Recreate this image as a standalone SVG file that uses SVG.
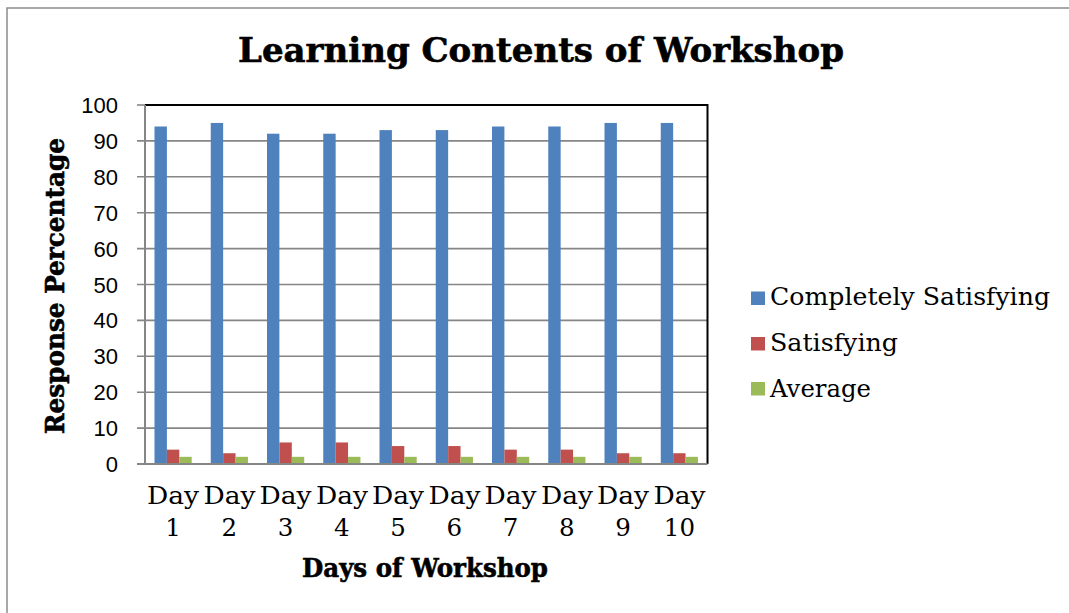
<svg xmlns="http://www.w3.org/2000/svg" width="1069" height="613" viewBox="0 0 1069 613">
<style>
.frame{fill:#fff;stroke:#8c8c8c;stroke-width:1.5}
.grid{stroke:#868686;stroke-width:1.6}
.axis{stroke:#868686;stroke-width:2}
.border{stroke:#000;stroke-width:2;fill:none}
.b{fill:#4F81BD}
.r{fill:#C0504D}
.g{fill:#9BBB59}
.ytick{font-family:"Liberation Sans",Arial,sans-serif;font-size:22px;fill:#000;text-anchor:end}
.xlab{font-family:"DejaVu Serif","Liberation Serif",serif;font-size:24.5px;fill:#000;text-anchor:middle}
.title{font-family:"DejaVu Serif","Liberation Serif",serif;font-weight:bold;fill:#000;text-anchor:middle;stroke:#000;stroke-width:0.6}
.leg{font-family:"DejaVu Serif","Liberation Serif",serif;font-size:25px;fill:#000}
</style>
<rect class="frame" x="7" y="8" width="1100" height="640"/>
<g id="title"><text class="title" x="541" y="62" font-size="34" textLength="606" lengthAdjust="spacingAndGlyphs">Learning Contents of Workshop</text></g>
<g id="gridlines">
<line class="grid" x1="137" y1="140.9" x2="707.5" y2="140.9"/>
<line class="grid" x1="137" y1="176.8" x2="707.5" y2="176.8"/>
<line class="grid" x1="137" y1="212.7" x2="707.5" y2="212.7"/>
<line class="grid" x1="137" y1="248.6" x2="707.5" y2="248.6"/>
<line class="grid" x1="137" y1="284.5" x2="707.5" y2="284.5"/>
<line class="grid" x1="137" y1="320.4" x2="707.5" y2="320.4"/>
<line class="grid" x1="137" y1="356.3" x2="707.5" y2="356.3"/>
<line class="grid" x1="137" y1="392.2" x2="707.5" y2="392.2"/>
<line class="grid" x1="137" y1="428.1" x2="707.5" y2="428.1"/>
<line class="grid" x1="137" y1="105" x2="145" y2="105"/>
</g>
<g id="plot-border">
<polyline class="border" points="145,105 707.5,105 707.5,464"/>
</g>
<g id="series-completely-satisfying">
<rect class="b" x="154.5" y="126.5" width="12.4" height="337.5"/>
<rect class="b" x="210.75" y="122.95" width="12.4" height="341.05"/>
<rect class="b" x="267" y="133.7" width="12.4" height="330.3"/>
<rect class="b" x="323.25" y="133.7" width="12.4" height="330.3"/>
<rect class="b" x="379.5" y="130.1" width="12.4" height="333.9"/>
<rect class="b" x="435.75" y="130.1" width="12.4" height="333.9"/>
<rect class="b" x="492" y="126.5" width="12.4" height="337.5"/>
<rect class="b" x="548.25" y="126.5" width="12.4" height="337.5"/>
<rect class="b" x="604.5" y="122.95" width="12.4" height="341.05"/>
<rect class="b" x="660.75" y="122.95" width="12.4" height="341.05"/>
</g>
<g id="series-satisfying">
<rect class="r" x="166.9" y="449.64" width="12.4" height="14.36"/>
<rect class="r" x="223.15" y="453.23" width="12.4" height="10.77"/>
<rect class="r" x="279.4" y="442.46" width="12.4" height="21.54"/>
<rect class="r" x="335.65" y="442.46" width="12.4" height="21.54"/>
<rect class="r" x="391.9" y="446.05" width="12.4" height="17.95"/>
<rect class="r" x="448.15" y="446.05" width="12.4" height="17.95"/>
<rect class="r" x="504.4" y="449.64" width="12.4" height="14.36"/>
<rect class="r" x="560.65" y="449.64" width="12.4" height="14.36"/>
<rect class="r" x="616.9" y="453.23" width="12.4" height="10.77"/>
<rect class="r" x="673.15" y="453.23" width="12.4" height="10.77"/>
</g>
<g id="series-average">
<rect class="g" x="179.3" y="456.82" width="12.4" height="7.18"/>
<rect class="g" x="235.55" y="456.82" width="12.4" height="7.18"/>
<rect class="g" x="291.8" y="456.82" width="12.4" height="7.18"/>
<rect class="g" x="348.05" y="456.82" width="12.4" height="7.18"/>
<rect class="g" x="404.3" y="456.82" width="12.4" height="7.18"/>
<rect class="g" x="460.55" y="456.82" width="12.4" height="7.18"/>
<rect class="g" x="516.8" y="456.82" width="12.4" height="7.18"/>
<rect class="g" x="573.05" y="456.82" width="12.4" height="7.18"/>
<rect class="g" x="629.3" y="456.82" width="12.4" height="7.18"/>
<rect class="g" x="685.55" y="456.82" width="12.4" height="7.18"/>
</g>
<g id="axes">
<line class="axis" x1="145" y1="105" x2="145" y2="465"/>
<line class="axis" x1="137" y1="464" x2="707.5" y2="464"/>
</g>
<g id="y-ticks">
<text class="ytick" x="118" y="113">100</text>
<text class="ytick" x="118" y="148.9">90</text>
<text class="ytick" x="118" y="184.8">80</text>
<text class="ytick" x="118" y="220.7">70</text>
<text class="ytick" x="118" y="256.6">60</text>
<text class="ytick" x="118" y="292.5">50</text>
<text class="ytick" x="118" y="328.4">40</text>
<text class="ytick" x="118" y="364.3">30</text>
<text class="ytick" x="118" y="400.2">20</text>
<text class="ytick" x="118" y="436.1">10</text>
<text class="ytick" x="118" y="472">0</text>
</g>
<g id="x-labels">
<text class="xlab" x="173.1" y="504" textLength="52" lengthAdjust="spacingAndGlyphs">Day</text><text class="xlab" x="173.1" y="536">1</text>
<text class="xlab" x="229.4" y="504" textLength="52" lengthAdjust="spacingAndGlyphs">Day</text><text class="xlab" x="229.4" y="536">2</text>
<text class="xlab" x="285.6" y="504" textLength="52" lengthAdjust="spacingAndGlyphs">Day</text><text class="xlab" x="285.6" y="536">3</text>
<text class="xlab" x="341.9" y="504" textLength="52" lengthAdjust="spacingAndGlyphs">Day</text><text class="xlab" x="341.9" y="536">4</text>
<text class="xlab" x="398.1" y="504" textLength="52" lengthAdjust="spacingAndGlyphs">Day</text><text class="xlab" x="398.1" y="536">5</text>
<text class="xlab" x="454.4" y="504" textLength="52" lengthAdjust="spacingAndGlyphs">Day</text><text class="xlab" x="454.4" y="536">6</text>
<text class="xlab" x="510.6" y="504" textLength="52" lengthAdjust="spacingAndGlyphs">Day</text><text class="xlab" x="510.6" y="536">7</text>
<text class="xlab" x="566.9" y="504" textLength="52" lengthAdjust="spacingAndGlyphs">Day</text><text class="xlab" x="566.9" y="536">8</text>
<text class="xlab" x="623.1" y="504" textLength="52" lengthAdjust="spacingAndGlyphs">Day</text><text class="xlab" x="623.1" y="536">9</text>
<text class="xlab" x="679.4" y="504" textLength="52" lengthAdjust="spacingAndGlyphs">Day</text><text class="xlab" x="679.4" y="536">10</text>
</g>
<g id="x-title"><text class="title" x="425" y="576.5" font-size="26" textLength="246" lengthAdjust="spacingAndGlyphs">Days of Workshop</text></g>
<g id="y-title"><text class="title" transform="translate(64,286) rotate(-90)" x="0" y="0" font-size="26" textLength="296" lengthAdjust="spacingAndGlyphs">Response Percentage</text></g>
<g id="legend">
<rect class="b" x="751" y="291.5" width="14" height="13.5"/>
<text class="leg" x="770" y="305" textLength="280" lengthAdjust="spacingAndGlyphs">Completely Satisfying</text>
<rect class="r" x="751" y="337" width="14" height="13.5"/>
<text class="leg" x="770" y="351" textLength="128" lengthAdjust="spacingAndGlyphs">Satisfying</text>
<rect class="g" x="751" y="382" width="14" height="13.5"/>
<text class="leg" x="770" y="397" textLength="101" lengthAdjust="spacingAndGlyphs">Average</text>
</g>
</svg>
